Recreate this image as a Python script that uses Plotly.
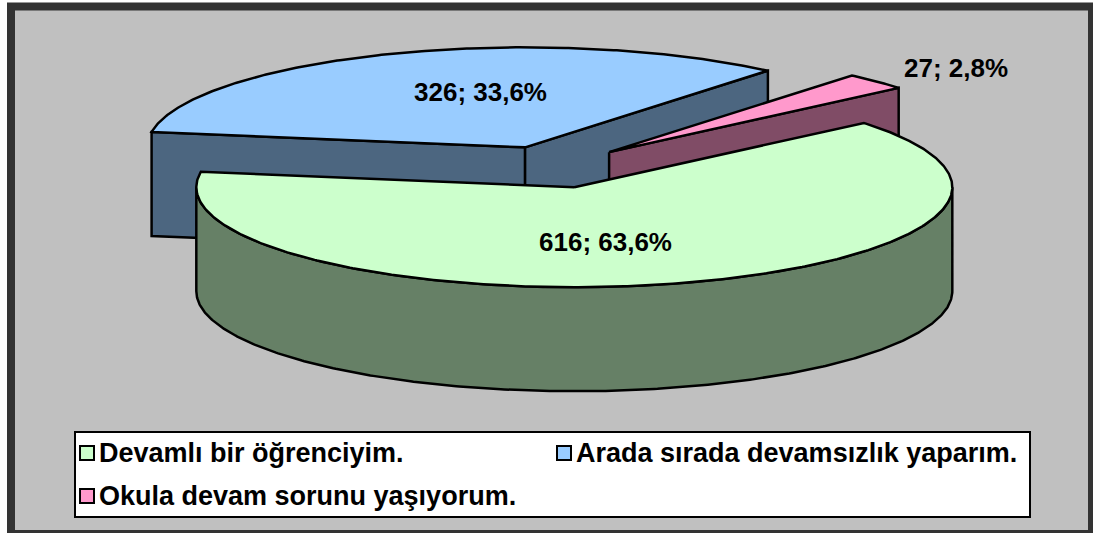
import numpy as np
import plotly.graph_objects as go

# ---------------- data ----------------
categories = ["Devamlı bir öğrenciyim.",
              "Arada sırada devamsızlık yaparım.",
              "Okula devam sorunu yaşıyorum."]
counts = [616, 326, 27]
top_colors = ["#CCFFCC", "#99CCFF", "#FF99CC"]
side_colors = ["#668066", "#4C6680", "#804C66"]

# ---------------- geometry / style ----------------
W, H = 1093, 533
CX, CY = 553, 167          # pie centre (pixels)
A, B = 378, 100            # ellipse semi-axes of the top face
DEPTH = 104                # thickness of the 3-D pie
EXPLODE = 0.21             # explosion (fraction of radius)
START = 50                 # first slice angle, degrees clockwise from 12 o'clock
LABEL_POS = [(605, 242), (480, 92), (956, 68)]

total = sum(counts)
shares = [c / total for c in counts]
pct_text = [f"{s*100:.1f}".replace(".", ",") + "%" for s in shares]


def pt(cx, cy, th, dz=0.0):
    r = np.radians(th)
    return cx + A * np.sin(r), cy - B * np.cos(r) + dz


def arc(cx, cy, t1, t2, dz=0.0, n=None):
    n = n or max(2, int(abs(t2 - t1) * 2) + 2)
    ts = np.linspace(t1, t2, n)
    xs, ys = pt(cx, cy, ts, dz)
    return list(xs), list(ys)


slices = []
t = START
for i, s in enumerate(shares):
    t1, t2 = t, t + s * 360
    m = np.radians((t1 + t2) / 2)
    cx = CX + EXPLODE * A * np.sin(m)
    cy = CY - EXPLODE * B * np.cos(m)
    slices.append(dict(i=i, t1=t1, t2=t2, cx=cx, cy=cy))
    t = t2

fig = go.Figure()


def poly(xs, ys, color, name):
    fig.add_trace(go.Scatter(
        x=xs + [xs[0]], y=ys + [ys[0]], mode="lines", fill="toself",
        fillcolor=color, line=dict(color="black", width=2.5),
        hoverinfo="skip", showlegend=False, name=name))


# back-to-front painter order
for sl in sorted(slices, key=lambda d: d["cy"]):
    i, t1, t2, cx, cy = sl["i"], sl["t1"], sl["t2"], sl["cx"], sl["cy"]
    name = categories[i]
    # radial faces
    for te, nrm in ((t1, t1 - 90), (t2, t2 + 90)):
        if np.cos(np.radians(nrm)) < -1e-6:
            px, py = pt(cx, cy, te)
            xs = [cx, px, px, cx]
            ys = [cy, py, py + DEPTH, cy + DEPTH]
            poly(xs, ys, side_colors[i], name)
    # outer (cylindrical) side, front half only
    for k in range(-1, 3):
        lo, hi = max(t1, 90 + 360 * k), min(t2, 270 + 360 * k)
        if hi > lo:
            tx, ty = arc(cx, cy, lo, hi)
            bx, by = arc(cx, cy, lo, hi, DEPTH)
            poly(tx + bx[::-1], ty + by[::-1], side_colors[i], name)
    # top face
    ax, ay = arc(cx, cy, t1, t2)
    poly([cx] + ax, [cy] + ay, top_colors[i], name)

shapes = [
    # outer frame + grey chart area
    dict(type="rect", xref="x", yref="y", x0=11, y0=6.5, x1=1092, y1=534,
         line=dict(color="#333333", width=8), fillcolor="#C0C0C0", layer="below"),
    # legend box
    dict(type="rect", xref="x", yref="y", x0=75, y0=432, x1=1030, y1=517,
         line=dict(color="black", width=2), fillcolor="white", layer="above"),
]

annotations = []
FONT = "Liberation Sans, Arial, sans-serif"
for i, (lx, ly) in enumerate(LABEL_POS):
    annotations.append(dict(
        x=lx, y=ly, xref="x", yref="y", showarrow=False,
        text=f"<b>{counts[i]}; {pct_text[i]}</b>",
        font=dict(family=FONT, size=26, color="black"),
        xanchor="center", yanchor="middle"))

LEG_POS = [(80, 453), (557, 453), (80, 496)]
SQ = 14
for i, (lx, ly) in enumerate(LEG_POS):
    shapes.append(dict(type="rect", xref="x", yref="y",
                       x0=lx, x1=lx + SQ, y0=ly - SQ / 2, y1=ly + SQ / 2,
                       line=dict(color="black", width=2),
                       fillcolor=top_colors[i], layer="above"))
    annotations.append(dict(
        x=lx + SQ + 3, y=ly, xref="x", yref="y", showarrow=False,
        text=f"<b>{categories[i]}</b>",
        font=dict(family=FONT, size=27, color="black"),
        xanchor="left", yanchor="middle"))

fig.update_layout(
    width=W, height=H, margin=dict(l=0, r=0, t=0, b=0),
    paper_bgcolor="white", plot_bgcolor="white",
    xaxis=dict(range=[0, W], visible=False, fixedrange=True),
    yaxis=dict(range=[H, 0], visible=False, fixedrange=True),
    shapes=shapes, annotations=annotations, showlegend=False,
)

fig.write_html("out.html", config={"displayModeBar": False},
               post_script="document.body.style.margin='0';document.body.style.overflow='hidden';")
